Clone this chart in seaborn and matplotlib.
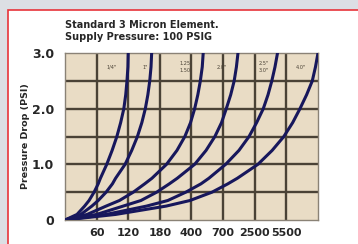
import pandas as pd
import seaborn as sns
import matplotlib.pyplot as plt
from matplotlib.patches import Rectangle

sns.set_style("white")
plt.rcParams['font.family'] = ['Liberation Sans Narrow', 'DejaVu Sans']

# flow scale (grid columns) and pressure drop values
flow_labels = ["60", "120", "180", "400", "700", "2500", "5500"]
psi_ticks = [0, 1, 2, 3]
psi_labels = ["0", "1.0", "2.0", "3.0"]

drop = [0, 0.1, 0.25, 0.35, 0.5, 0.65, 0.75, 1.0, 1.25, 1.5, 1.75, 2.0, 2.25, 2.5, 2.75, 3.0]
size_quarter = [0, .38, .62, .76, .92, 1.05, 1.12, 1.32, 1.49, 1.64, 1.76, 1.86, 1.92, 1.96, 1.99, 2.0]
size_one = [0, .5, .85, 1.05, 1.3, 1.5, 1.6, 1.9, 2.11, 2.29, 2.43, 2.54, 2.62, 2.68, 2.72, 2.74]
size_125 = [0, .7, 1.3, 1.72, 2.16, 2.52, 2.75, 3.21, 3.54, 3.79, 3.97, 4.1, 4.2, 4.28, 4.34, 4.37]
size_two = [0, 1.0, 1.84, 2.4, 2.9, 3.3, 3.55, 4.1, 4.46, 4.74, 4.95, 5.1, 5.24, 5.35, 5.42, 5.47]
size_three = [0, 1.3, 2.58, 3.25, 3.82, 4.3, 4.55, 5.08, 5.5, 5.82, 6.06, 6.27, 6.42, 6.54, 6.64, 6.72]
size_four = [0, 1.6, 3.2, 3.95, 4.65, 5.15, 5.45, 6.1, 6.55, 6.92, 7.2, 7.43, 7.64, 7.82, 7.92, 8.0]
curve_names = ['1/4"', '1"', '1.25"\n1.50"', '2.0"', '2.5"\n3.0"', '4.0"']

curves = [size_quarter, size_one, size_125, size_two, size_three, size_four]
df = pd.concat([pd.DataFrame({"flow": c, "drop": drop, "size": n})
                for c, n in zip(curves, curve_names)])

fig = plt.figure(figsize=(3.58, 2.44), dpi=100)
fig.patch.set_facecolor("#dcdfe4")
fig.patches.append(Rectangle((8 / 358, -0.1), 1.1, 1 - 10 / 244 + 0.1,
                             transform=fig.transFigure, facecolor="white",
                             edgecolor="#e8343a", linewidth=1.2, zorder=-5))

ax = fig.add_axes([65 / 358, 1 - 220 / 244, 253 / 358, 167 / 244])
ax.set_facecolor("#e9dcc5")
sns.lineplot(data=df, x="flow", y="drop", hue="size", units="size",
             estimator=None, sort=False, palette=["#17175c"] * 6,
             linewidth=2.2, legend=False, ax=ax)

ax.set_xlim(0, 8)
ax.set_ylim(0, 3)
for gx in range(1, 8):
    ax.axvline(gx, color="#4a4236", linewidth=1.7, zorder=1)
for gy in [0.5, 1.0, 1.5, 2.0, 2.5]:
    ax.axhline(gy, color="#4a4236", linewidth=1.7, zorder=1)
for line in ax.lines[:6]:
    line.set_zorder(3)
    line.set_solid_joinstyle("round")
for s in ax.spines.values():
    s.set_color("#8a8276")
    s.set_linewidth(1.0)

# size labels at the top of each curve
label_x = [1.47, 2.53, 3.84, 4.95, 6.3, 7.47]
for lx, name in zip(label_x, curve_names):
    ax.text(lx, 2.74, name, ha="center", va="center", fontsize=3.6,
            color="#4a4236", linespacing=1.5)

ax.set_xticks(range(1, 8))
ax.set_xticklabels(flow_labels, fontsize=8, fontweight="bold")
ax.set_yticks(psi_ticks)
ax.set_yticklabels(psi_labels, fontsize=9, fontweight="bold")
ax.tick_params(axis="x", length=0, pad=5.5)
ax.tick_params(axis="y", length=0, pad=8)
ax.set_xlabel("")
ax.set_ylabel("Pressure Drop (PSI)", fontsize=6.8, fontweight="bold", labelpad=4)
ax.yaxis.set_label_coords(-0.14, 0.5)

fig.text(65 / 358, 1 - 25 / 244, "Standard 3 Micron Element.", fontsize=7,
         fontweight="bold", va="center", ha="left")
fig.text(65 / 358, 1 - 37 / 244, "Supply Pressure: 100 PSIG", fontsize=7,
         fontweight="bold", va="center", ha="left")

fig.savefig("out.png", dpi=100, facecolor=fig.get_facecolor())
